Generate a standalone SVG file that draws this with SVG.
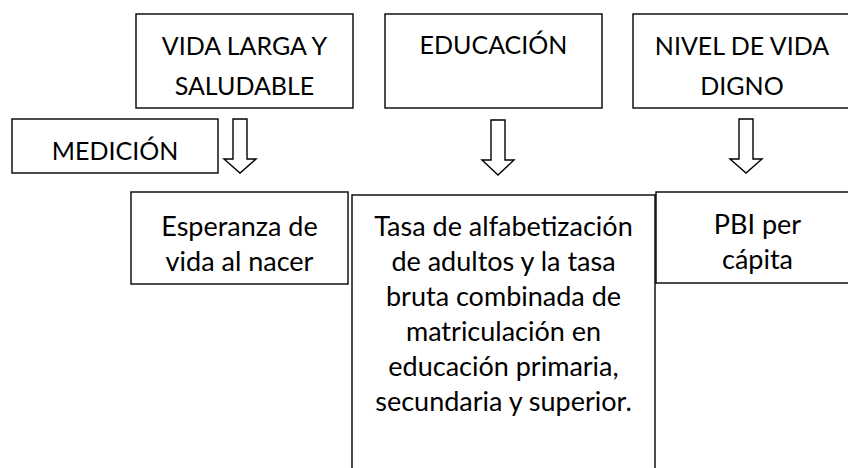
<svg xmlns="http://www.w3.org/2000/svg" width="848" height="468" viewBox="0 0 848 468">
<style>
.box{fill:#fff;stroke:#000;stroke-width:1.4}
.t{font-family:Lato,"Liberation Sans",sans-serif;font-size:27px;fill:#000;text-anchor:middle}
.c{font-size:25px}
.arr{fill:#fff;stroke:#000;stroke-width:1.4;stroke-linejoin:miter}
</style>
<rect width="848" height="468" fill="#fff"/>
<g id="vida">
<rect class="box" x="136" y="14" width="217" height="94"/>
<text class="t c" x="244.5" y="55">VIDA LARGA Y</text>
<text class="t c" x="244.5" y="95">SALUDABLE</text>
</g>
<g id="educacion">
<rect class="box" x="385" y="14" width="217" height="94"/>
<text class="t c" x="493.5" y="54">EDUCACIÓN</text>
</g>
<g id="nivel">
<rect class="box" x="633" y="14" width="220" height="94"/>
<text class="t c" x="742" y="55">NIVEL DE VIDA</text>
<text class="t c" x="742" y="95">DIGNO</text>
</g>
<g id="medicion">
<rect class="box" x="12" y="119" width="206" height="54"/>
<text class="t c" x="115" y="160">MEDICIÓN</text>
</g>
<g id="esperanza">
<rect class="box" x="131" y="192" width="217" height="92"/>
<text class="t" x="239.5" y="236">Esperanza de</text>
<text class="t" x="239.5" y="271">vida al nacer</text>
</g>
<g id="tasa">
<rect class="box" x="352" y="195" width="303" height="290"/>
<text class="t" x="503.5" y="236">Tasa de alfabetización</text>
<text class="t" x="503.5" y="271">de adultos y la tasa</text>
<text class="t" x="503.5" y="306">bruta combinada de</text>
<text class="t" x="503.5" y="341">matriculación en</text>
<text class="t" x="503.5" y="376">educación primaria,</text>
<text class="t" x="503.5" y="411">secundaria y superior.</text>
</g>
<g id="pbi">
<rect class="box" x="656" y="192" width="204" height="91"/>
<text class="t" x="757.5" y="234">PBI per</text>
<text class="t" x="757.5" y="269">cápita</text>
</g>
<g id="connectors">
<path class="arr" d="M233,119 H247 V159 H256 L240,173 L224,159 H233 Z"/>
<path class="arr" d="M491,120 H505 V160 H514 L498,175 L482,160 H491 Z"/>
<path class="arr" d="M739,119 H753 V159 H762 L746,173 L730,159 H739 Z"/>
</g>
</svg>
